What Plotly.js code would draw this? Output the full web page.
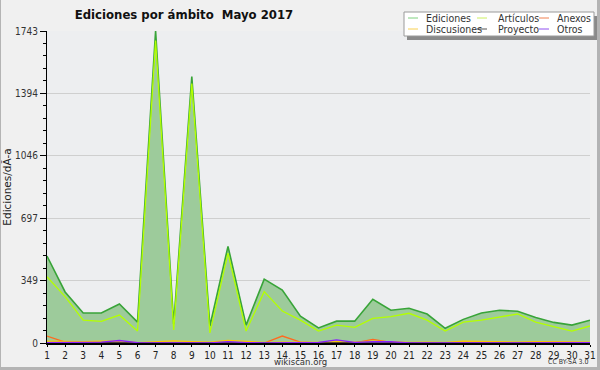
<!DOCTYPE html>
<html>
<head>
<meta charset="utf-8">
<script src="https://cdn.plot.ly/plotly-3.0.1.min.js"></script>
<style>
html,body{margin:0;padding:0;background:#b4b4b4;}
#chart{position:absolute;left:1px;top:0;width:596px;height:367px;}
</style>
</head>
<body>
<div id="chart"></div>
<script>
const days = [1,2,3,4,5,6,7,8,9,10,11,12,13,14,15,16,17,18,19,20,21,22,23,24,25,26,27,28,29,30,31];
const ediciones   = [486,285,168,168,218,117,1743,105,1488,95,540,100,357,296,150,84,122,122,244,183,194,162,82,132,168,183,177,143,115,100,127];
const articulos   = [370,259,128,121,156,67,1690,73,1450,56,502,67,287,179,128,67,100,87,138,147,166,128,67,117,128,147,162,117,91,67,95];
const anexos      = [39,5,3,2,8,1,0,0,0,0,2,0,0,39,5,0,0,0,20,3,0,0,0,0,0,0,0,3,5,3,2];
const discusiones = [10,8,8,10,10,2,5,12,8,5,15,8,3,5,3,3,8,5,10,5,3,5,3,10,8,5,5,8,8,8,5];
const proyecto    = [2,1,1,1,1,0,1,1,1,0,1,0,0,1,0,0,1,1,2,1,0,0,0,1,1,1,1,3,2,1,1];
const otros       = [2,2,2,5,14,2,1,1,1,1,8,2,1,1,2,3,17,3,8,7,1,0,0,0,0,0,0,0,0,1,2];
const yTickVals   = [0,349,697,1046,1394,1743];
const yTickText   = ["0","349","697","1046","1394","1743"];

const series = [
  {name:"Ediciones",   y:ediciones,   line:"#38a438", legend:"#7fd07f"},
  {name:"Artículos",   y:articulos,   line:"#b4ff00", legend:"#ccf060"},
  {name:"Anexos",      y:anexos,      line:"#ff6a20", legend:"#f08050"},
  {name:"Discusiones", y:discusiones, line:"#ffc800", legend:"#f8d050"},
  {name:"Proyecto",    y:proyecto,    line:"#333333", legend:"#555555"},
  {name:"Otros",       y:otros,       line:"#8a20ff", legend:"#9050f0"}
];

const traces = series.map((s,i)=>({
  x: days, y: s.y, name: s.name, type:'scatter', mode:'lines',
  line:{color:s.line, width: i===0 ? 1.6 : 1.3},
  fill: i===0 ? 'tozeroy' : 'none',
  fillcolor: 'rgb(157,203,155)',
  showlegend:false, hoverinfo:'skip'
}));

// geometry helpers (page pixel -> paper)
const PL=47, PR=590, PT=31, PB=343;
const px = x => (x-PL)/(PR-PL);
const py = y => (PB-y)/(PB-PT);

const minorVals = [];
for (let k=0;k<=25;k++){ minorVals.push(yTickVals[yTickVals.length-1]*k/25); }

const FONT = "DejaVu Sans Condensed, Liberation Sans Narrow, DejaVu Sans, sans-serif";
const FONTW = "DejaVu Sans, sans-serif";

const shapes = [
  {type:'rect', xref:'paper', yref:'paper', x0:px(407), x1:px(598), y0:py(40), y1:py(16), fillcolor:'#8a8a8a', line:{width:0}, layer:'above'},
  {type:'rect', xref:'paper', yref:'paper', x0:px(404), x1:px(594), y0:py(36), y1:py(12), fillcolor:'#ffffff', line:{color:'#9a9a9a', width:1}, layer:'above'}
];
const annotations = [
  {text:'wikiscan.org', xref:'paper', yref:'paper', x:px(300), y:py(361), showarrow:false, font:{family:FONT,size:9.5,color:'#333'}, xanchor:'center', yanchor:'middle'},
  {text:'CC BY-SA 3.0', xref:'paper', yref:'paper', x:px(590), y:py(362), showarrow:false, font:{family:FONT,size:7,color:'#333'}, xanchor:'right', yanchor:'middle'}
];
const colX = [[408,424],[477,496],[539,555]];
const rowY = [18,29];
series.forEach((s,i)=>{
  const c = i%3, r = Math.floor(i/3);
  shapes.push({type:'line', xref:'paper', yref:'paper', x0:px(colX[c][0]), x1:px(colX[c][0]+10), y0:py(rowY[r]), y1:py(rowY[r]), line:{color:s.legend, width:1}, layer:'above'});
  annotations.push({text:s.name, xref:'paper', yref:'paper', x:px(colX[c][1]), y:py(rowY[r]), showarrow:false, xanchor:'left', yanchor:'middle', font:{family:FONT, size:10.5, color:'#333'}});
});

const layout = {
  width:596, height:367,
  margin:{l:46, r:596-(PR-1), t:PT, b:367-PB},
  paper_bgcolor:'#f0f0f0', plot_bgcolor:'#edeef0',
  title:{text:'Ediciones por ámbito  Mayo 2017', font:{family:FONT, size:13, color:'#111', weight:'bold'}, x:183/596, xanchor:'center', xref:'container', y:1-14/367, yanchor:'middle', yref:'container'},
  font:{family:FONT, size:10, color:'#333'},
  xaxis:{range:[1,31], tickvals:days, ticktext:days.map(String), ticks:'outside', ticklen:2, tickcolor:'#000', showline:true, linecolor:'#000', linewidth:2, showgrid:false, zeroline:false, fixedrange:true, tickfont:{family:FONT,size:10,color:'#222'}},
  yaxis:{range:[0,yTickVals[yTickVals.length-1]], tickvals:yTickVals, ticktext:yTickText, ticks:'outside', ticklen:6, tickcolor:'#000', showline:true, linecolor:'#000', linewidth:1, showgrid:true, gridcolor:'#cfcfcf', zeroline:false,
    minor:{tickmode:'array', tickvals:minorVals, ticks:'outside', ticklen:3, tickcolor:'#000', showgrid:false},
    tickfont:{family:FONT,size:10,color:'#333'},
    title:{text:'Ediciones/dÃ-a', font:{family:FONTW,size:10.5,color:'#222'}, standoff:9}},
  shapes:shapes, annotations:annotations, showlegend:false
};
Plotly.newPlot('chart', traces, layout, {displayModeBar:false, staticPlot:true});
</script>
</body>
</html>
